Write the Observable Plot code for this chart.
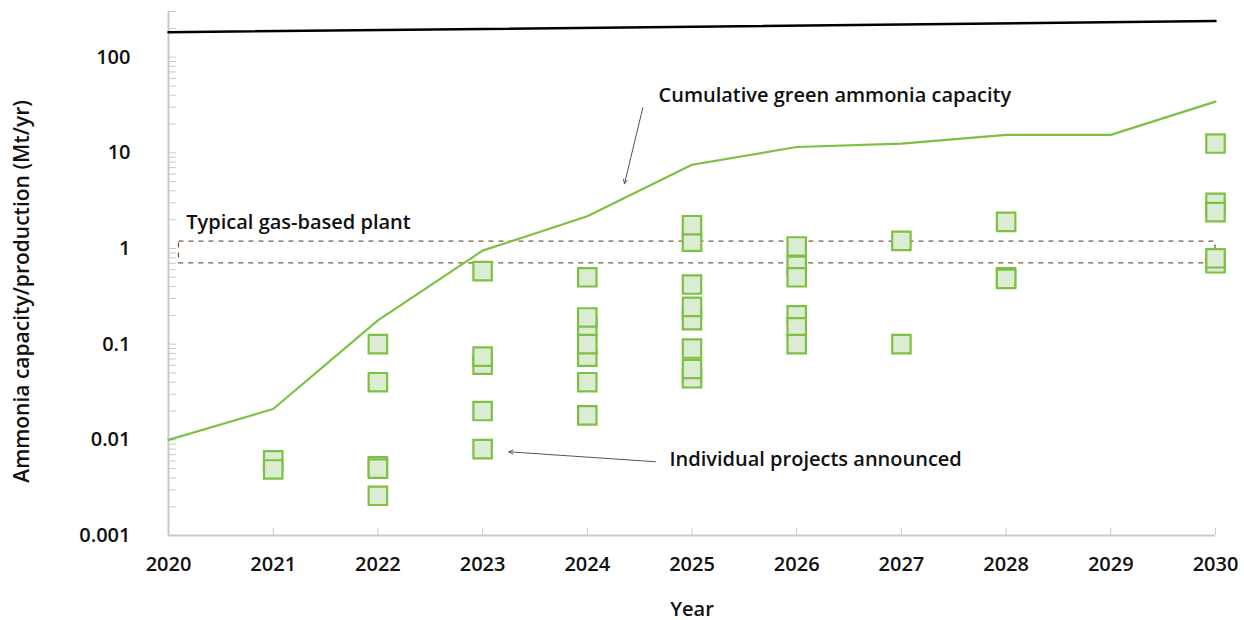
<!DOCTYPE html>
<html>
<head>
<meta charset="utf-8">
<script src="https://cdn.jsdelivr.net/npm/d3@7"></script>
<script src="https://cdn.jsdelivr.net/npm/@observablehq/plot@0.6"></script>
<style>
  html, body { margin: 0; padding: 0; background: #fff; }
  #chart { width: 1244px; height: 620px; overflow: hidden; }
</style>
</head>
<body>
<div id="chart"></div>
<script>
// ---- Data ----
const years = [2020, 2021, 2022, 2023, 2024, 2025, 2026, 2027, 2028, 2029, 2030];
const cumulativeCapacity = [0.01, 0.021, 0.177, 0.95, 2.17, 7.5, 11.5, 12.5, 15.4, 15.4, 34.3];

const productionYears = [2020, 2030];
const globalProduction = [182, 238];

// individual projects announced (draw order)
const projectYears = [
  2021, 2021,
  2022, 2022, 2022, 2022, 2022,
  2023, 2023, 2023, 2023, 2023,
  2024, 2024, 2024, 2024, 2024, 2024, 2024,
  2025, 2025, 2025, 2025, 2025, 2025, 2025, 2025,
  2026, 2026, 2026, 2026, 2026, 2026,
  2027, 2027,
  2028, 2028, 2028,
  2030, 2030, 2030, 2030, 2030
];
const projectValues = [
  0.0061, 0.0049,
  0.1, 0.04, 0.0053, 0.005, 0.0026,
  0.58, 0.061, 0.074, 0.02, 0.008,
  0.5, 0.15, 0.19, 0.074, 0.1, 0.04, 0.018,
  1.18, 1.75, 0.42, 0.178, 0.245, 0.044, 0.055, 0.09,
  1.05, 0.66, 0.5, 0.2, 0.15, 0.1,
  1.2, 0.1,
  1.9, 0.5, 0.48,
  12.5, 3.0, 2.4, 0.7, 0.79
];

const gasPlantBand = [{x1: 2020.1, x2: 2030, y1: 0.7, y2: 1.18}];

const yLabelTicks = [0.001, 0.01, 0.1, 1, 10, 100];
const yMinorTicks = [];
for (const base of [0.001, 0.01, 0.1, 1, 10, 100]) {
  for (let m = 1; m <= 9; m++) {
    const v = +(base * m).toPrecision(3);
    if (v <= 300) yMinorTicks.push(v);
  }
}

const yTitle = [{x: 2020, y: 0.356, text: "Ammonia capacity/production (Mt/yr)"}];
const xTitle = "Year";

const annotations = [
  {x: 2020.17, y: 1.87, text: "Typical gas-based plant"},
  {x: 2024.68, y: 39.4, text: "Cumulative green ammonia capacity"},
  {x: 2024.785, y: 0.0062, text: "Individual projects announced"}
];
const pointers = [
  {x1: 2024.53, y1: 29.5, x2: 2024.355, y2: 4.74},
  {x1: 2024.65, y1: 0.0059, x2: 2023.25, y2: 0.0075}
];

// ---- Tables built from the arrays ----
const cumulativeRows = years.map((x, i) => ({x, y: cumulativeCapacity[i]}));
const productionRows = productionYears.map((x, i) => ({x, y: globalProduction[i]}));
const projectRows = projectYears.map((x, i) => ({x, y: projectValues[i]}));

const axisGray = "#c9c9c9";
const green = "#7cc142";

const chart = Plot.plot({
  width: 1244,
  height: 620,
  marginLeft: 168,
  marginRight: 29,
  marginTop: 11,
  marginBottom: 85,
  style: {fontFamily: "'Open Sans', sans-serif", fontSize: "20px", color: "#111", background: "#fff"},
  x: {domain: [2020, 2030]},
  y: {type: "log", domain: [0.001, 300]},
  marks: [
    Plot.axisY({ticks: yMinorTicks, tickSize: 8, dx: 8, tickFormat: () => "", stroke: axisGray, label: null}),
    Plot.axisY({ticks: yLabelTicks, tickSize: 0, tickPadding: 38, tickFormat: d => String(d),
      fontWeight: 600, label: null}),
    Plot.axisX({ticks: years, tickSize: 7, dy: -7, tickFormat: () => "", stroke: axisGray, label: null}),
    Plot.axisX({ticks: years, tickSize: 0, tickPadding: 21, tickFormat: d => String(d),
      fontWeight: 600, label: xTitle, labelAnchor: "center", labelArrow: "none", labelOffset: 80}),
    Plot.text(yTitle, {x: "x", y: "y", text: "text", rotate: -90, dx: -146,
      fontSize: 21, fontWeight: 600, fill: "#111", clip: false}),
    Plot.ruleY([0.001], {stroke: axisGray, strokeWidth: 2}),
    Plot.ruleX([2020], {stroke: axisGray, strokeWidth: 2}),
    Plot.rect(gasPlantBand, {x1: "x1", x2: "x2", y1: "y1", y2: "y2", fill: "none",
      stroke: "#7b5b43", strokeWidth: 1.3, strokeDasharray: "5,5"}),
    Plot.line(productionRows, {x: "x", y: "y", stroke: "#000", strokeWidth: 2.5}),
    Plot.line(cumulativeRows, {x: "x", y: "y", stroke: green, strokeWidth: 2.2}),
    Plot.dot(projectRows, {x: "x", y: "y", symbol: "square", r: 10.4,
      fill: "#dbecd3", stroke: green, strokeWidth: 2.2}),
    Plot.arrow(pointers, {x1: "x1", y1: "y1", x2: "x2", y2: "y2", stroke: "#555",
      strokeWidth: 1, headLength: 7, headAngle: 50}),
    Plot.text(annotations, {x: "x", y: "y", text: "text", textAnchor: "start",
      lineAnchor: "middle", fontWeight: 600, fill: "#111"})
  ]
});
document.getElementById("chart").appendChild(chart);
</script>
</body>
</html>
